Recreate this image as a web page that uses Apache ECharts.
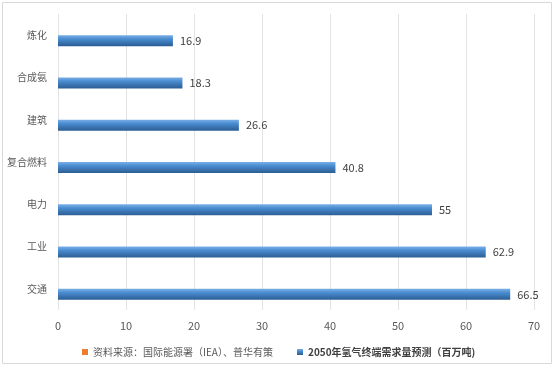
<!DOCTYPE html>
<html><head><meta charset="utf-8">
<script src="https://cdn.jsdelivr.net/npm/echarts@6/dist/echarts.min.js"></script>
<style>html,body{margin:0;padding:0;background:#fff}#c{width:554px;height:366px}</style>
</head><body><div id="c"></div>
<script>
const categories = ['炼化','合成氨','建筑','复合燃料','电力','工业','交通'];
const values = [16.9, 18.3, 26.6, 40.8, 55, 62.9, 66.5];
const sourceName = '资料来源：国际能源署（IEA）、普华有策';
const seriesName = '2050年氢气终端需求量预测（百万吨)';
const xTicks = {min: 0, max: 70, interval: 10};
const font = 'Microsoft YaHei, "Noto Sans CJK SC", sans-serif';

const chart = echarts.init(document.getElementById('c'));
chart.setOption({
  animation: false,
  textStyle: {fontFamily: font},
  graphic: [{type: 'rect', shape: {x: 2.5, y: 2.5, width: 549, height: 361}, style: {fill: 'none', stroke: '#d9d9d9', lineWidth: 1}, z: -1}],
  grid: {left: 58, right: 20, top: 14, bottom: 56},
  legend: [
    {data: [sourceName], left: 77, top: 342, itemWidth: 6, itemHeight: 6, itemGap: 4, icon: 'rect',
     textStyle: {fontSize: 10, color: '#595959', fontFamily: font}},
    {data: [seriesName], left: 292, top: 342, itemWidth: 6, itemHeight: 6, itemGap: 4, icon: 'rect',
     textStyle: {fontSize: 10, color: '#404040', fontWeight: 'bold', fontFamily: font}}
  ],
  xAxis: {type: 'value', min: xTicks.min, max: xTicks.max, interval: xTicks.interval,
    axisLine: {show: false}, axisTick: {show: false},
    splitLine: {lineStyle: {color: '#e3e3e3'}},
    axisLabel: {fontSize: 11, color: '#595959', margin: 10}},
  yAxis: {type: 'category', data: categories, inverse: true,
    axisLine: {show: false}, axisTick: {show: false},
    axisLabel: {fontSize: 10, color: '#595959', margin: 11}},
  series: [
    {name: sourceName, type: 'bar', data: [], barWidth: 11, itemStyle: {color: '#ed7d31'}},
    {name: seriesName, type: 'bar', data: values, barWidth: 11, barGap: '0%',
     itemStyle: {color: new echarts.graphic.LinearGradient(0, 0, 0, 1, [
        {offset: 0, color: '#79b0e6'}, {offset: 0.35, color: '#4a8cd0'},
        {offset: 1, color: '#2b5d93'}])},
     label: {show: true, position: 'right', distance: 7, fontSize: 11, color: '#404040'}}
  ]
});
</script></body></html>
